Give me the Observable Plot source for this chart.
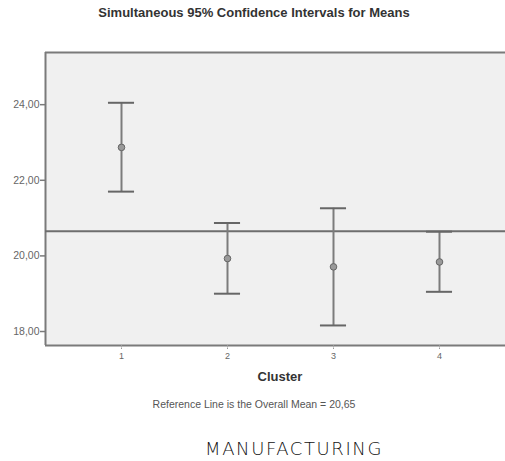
<!DOCTYPE html>
<html><head><meta charset="utf-8">
<script src="https://cdn.jsdelivr.net/npm/d3@7"></script>
<script src="https://cdn.jsdelivr.net/npm/@observablehq/plot@0.6"></script>
<style>
html,body{margin:0;padding:0;background:#fff;overflow:hidden;width:505px;height:461px}
#wrap{position:relative;width:505px;height:461px;font-family:"Liberation Sans",Arial,sans-serif}
.t{position:absolute;white-space:nowrap;transform:translateX(-50%)}
</style></head>
<body><div id="wrap"></div>
<script>
const clusters = [1, 2, 3, 4];
const means = [22.87, 19.93, 19.71, 19.84];
const lowers = [21.70, 19.00, 18.16, 19.05];
const uppers = [24.05, 20.87, 21.26, 20.64];
const overallMean = 20.65;
const yTicks = [18, 20, 22, 24];
const title = "Simultaneous 95% Confidence Intervals for Means";
const xLabel = "Cluster";
const note = "Reference Line is the Overall Mean = 20,65";
const caption = "MANUFACTURING";

const rows = clusters.map((c, i) => ({c, mean: means[i], lo: lowers[i], hi: uppers[i]}));
const capHalf = 0.123;
const xDomain = [0.283, 4.717];
const yDomain = [17.63, 25.38];

const chart = Plot.plot({
  width: 505, height: 390,
  marginLeft: 45, marginTop: 52, marginBottom: 45, marginRight: 0,
  x: {domain: xDomain, range: [45, 515], axis: null},
  y: {domain: yDomain, axis: null},
  style: {background: "transparent", fontFamily: "Liberation Sans, Arial, sans-serif"},
  marks: [
    Plot.rect([0], {x1: xDomain[0], x2: xDomain[1], y1: yDomain[0], y2: yDomain[1], fill: "#f0f0f0"}),
    Plot.ruleY([yDomain[0], yDomain[1]], {x1: xDomain[0], x2: xDomain[1], stroke: "#7a7a7a", strokeWidth: 2}),
    Plot.ruleX([xDomain[0]], {y1: yDomain[0], y2: yDomain[1], stroke: "#7a7a7a", strokeWidth: 2}),
    Plot.axisY(yTicks, {anchor: "left", tickSize: 5, stroke: "#7a7a7a", strokeWidth: 1.5, tickPadding: 1,
      tickFormat: d => d.toFixed(2).replace(".", ","), fontSize: 10.5, fill: "#666", label: null}),
    Plot.axisX(clusters, {anchor: "bottom", tickSize: 5, stroke: "#999", strokeDasharray: "1.5,1", tickPadding: 2,
      fontSize: 9, fill: "#666", label: null}),
    Plot.ruleY([overallMean], {x1: xDomain[0], x2: xDomain[1], stroke: "#6e6e6e", strokeWidth: 2}),
    Plot.ruleX(rows, {x: "c", y1: "lo", y2: "hi", stroke: "#7c7c7c", strokeWidth: 2}),
    Plot.ruleY(rows, {y: "hi", x1: d => d.c - capHalf, x2: d => d.c + capHalf, stroke: "#666", strokeWidth: 2}),
    Plot.ruleY(rows, {y: "lo", x1: d => d.c - capHalf, x2: d => d.c + capHalf, stroke: "#666", strokeWidth: 2}),
    Plot.dot(rows, {x: "c", y: "mean", r: 3.3, fill: "#9a9a9a", stroke: "#666", strokeWidth: 1})
  ]
});
chart.style.position = "absolute";
chart.style.left = "0px";
chart.style.top = "0px";
const wrap = document.getElementById("wrap");
wrap.appendChild(chart);

function addText(txt, x, y, css) {
  const d = document.createElement("div");
  d.className = "t";
  d.textContent = txt;
  d.style.left = x + "px";
  d.style.top = y + "px";
  Object.assign(d.style, css);
  wrap.appendChild(d);
}
addText(title, 254, 5, {fontSize: "13px", fontWeight: "bold", color: "#333"});
addText(xLabel, 280, 369, {fontSize: "13px", fontWeight: "bold", color: "#333"});
addText(note, 254, 398, {fontSize: "10.5px", color: "#555"});
addText(caption, 294, 438, {fontSize: "18px", color: "#111", fontFamily: "\"DejaVu Sans\", sans-serif", fontWeight: "200", letterSpacing: "1.6px"});
</script>
</body></html>
